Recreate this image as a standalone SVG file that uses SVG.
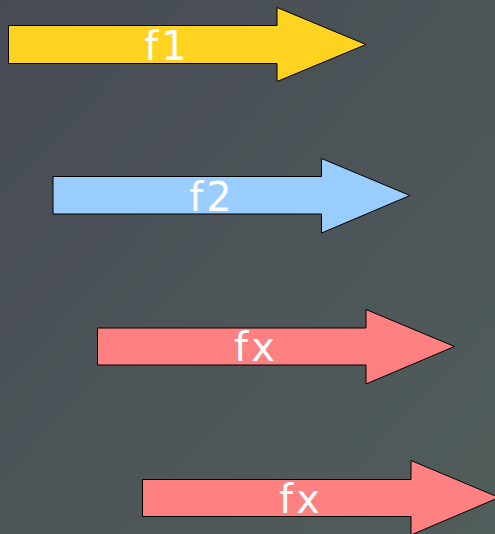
<svg xmlns="http://www.w3.org/2000/svg" width="495" height="534" viewBox="0 0 495 534">
<defs>
<linearGradient id="bg" x1="0" y1="0" x2="1" y2="1">
<stop offset="0" stop-color="#474b54"/>
<stop offset="1" stop-color="#515d5b"/>
</linearGradient>
</defs>
<style>
.arrow{stroke:#000;stroke-width:1;stroke-linejoin:miter}
.lbl{font-family:"DejaVu Sans",sans-serif;font-size:40px;letter-spacing:3px;fill:#fff;text-anchor:middle}
</style>
<rect width="495" height="534" fill="url(#bg)"/>
<g id="f1">
<path class="arrow" fill="#ffd320" d="M8.5,25.5 H277 V7.5 L366,44.5 L277,81.5 V63.5 H8.5 Z"/>
<text class="lbl" x="167" y="60">f1</text>
</g>
<g id="f2">
<path class="arrow" fill="#99ccff" d="M53,176.5 H321.5 V158.5 L410,195.5 L321.5,233 V214 H53 Z"/>
<text class="lbl" x="212" y="211">f2</text>
</g>
<g id="fx1">
<path class="arrow" fill="#ff8080" d="M97.5,328 H366 V309.5 L454.5,346.5 L366,384 V365 H97.5 Z"/>
<text class="lbl" x="256" y="361">fx</text>
</g>
<g id="fx2">
<path class="arrow" fill="#ff8080" d="M142.5,479.5 H411 V460.5 L499,497.5 L411,535 V516.5 H142.5 Z"/>
<text class="lbl" x="301" y="513">fx</text>
</g>
<g id="connectors"/>
</svg>
